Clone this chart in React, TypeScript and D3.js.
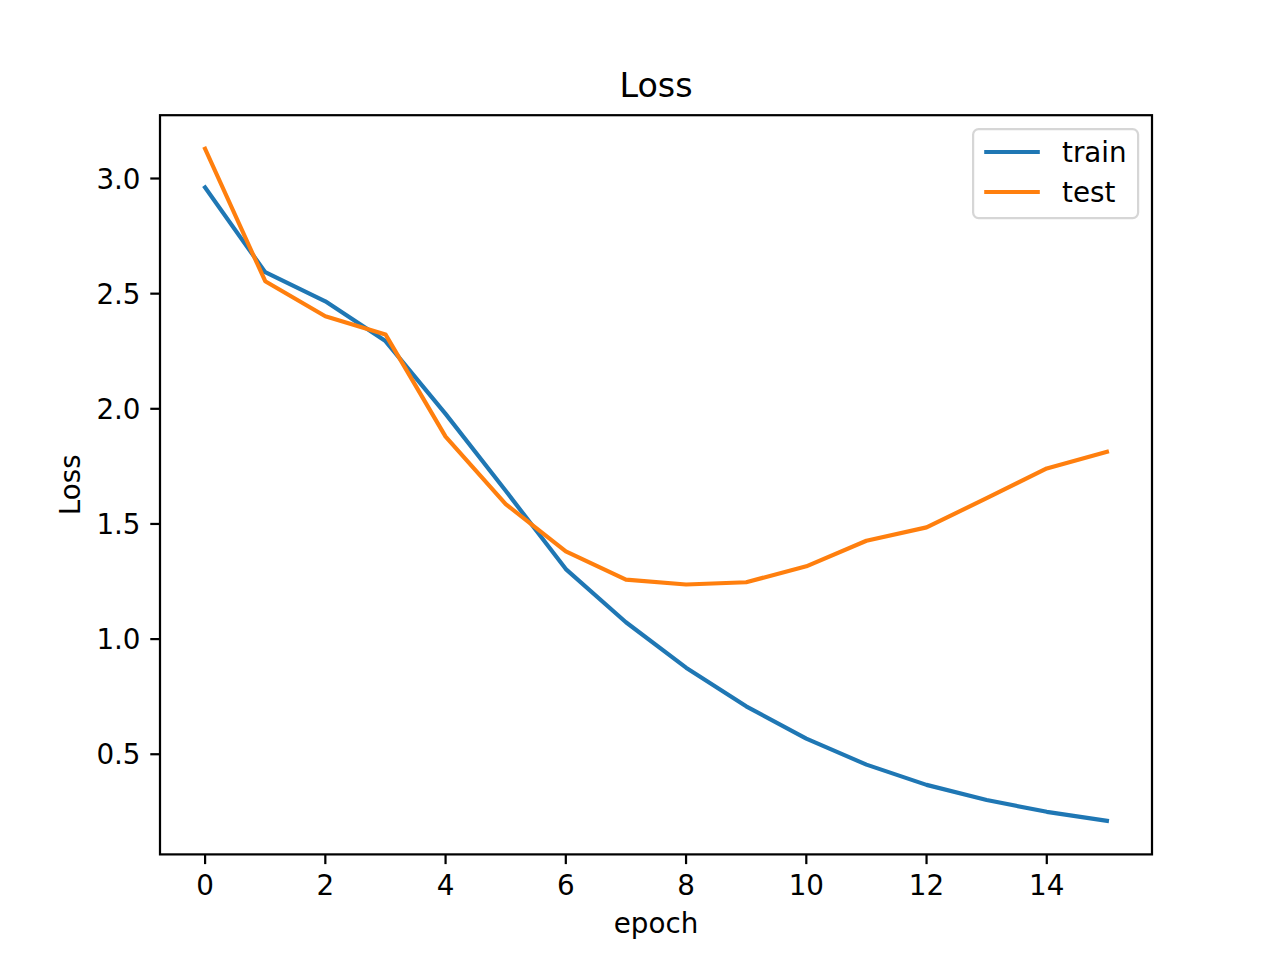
import React from "react";
import * as d3 from "d3";

const epochs = [0, 1, 2, 3, 4, 5, 6, 7, 8, 9, 10, 11, 12, 13, 14, 15];
const trainLoss = [2.961, 2.593, 2.467, 2.294, 1.978, 1.644, 1.304, 1.073, 0.876, 0.708, 0.568, 0.455, 0.367, 0.301, 0.250, 0.211];
const testLoss = [3.129, 2.554, 2.402, 2.323, 1.879, 1.586, 1.381, 1.258, 1.237, 1.247, 1.316, 1.427, 1.485, 1.612, 1.741, 1.813];
const xTicks = [0, 2, 4, 6, 8, 10, 12, 14];
const yTicks = [0.5, 1.0, 1.5, 2.0, 2.5, 3.0];
const seriesNames = ["train", "test"];
const seriesColors = ["#1f77b4", "#ff7f0e"];

const W = 1280;
const H = 960;
const left = 160;
const right = 1152;
const top = 115.2;
const bottom = 854.4;
const FS = 27.78;
const font = "DejaVu Sans, sans-serif";

export default function App() {
  const xMin = d3.min(epochs)!;
  const xMax = d3.max(epochs)!;
  const xm = (xMax - xMin) * 0.05;
  const x = d3.scaleLinear().domain([xMin - xm, xMax + xm]).range([left, right]);
  const all = [...trainLoss, ...testLoss];
  const yMin = d3.min(all)!;
  const yMax = d3.max(all)!;
  const ymg = (yMax - yMin) * 0.05;
  const y = d3.scaleLinear().domain([yMin - ymg, yMax + ymg]).range([bottom, top]);

  const line = d3
    .line<number>()
    .x((_, i) => x(epochs[i]))
    .y((d) => y(d));

  const series = [trainLoss, testLoss];
  const tickLen = 9.72;
  const pad = 9.72;

  // legend geometry
  const lgRight = right - 0.5 * FS;
  const lgTop = top + 0.5 * FS;
  const lgW = 165;
  const lgH = 89;
  const lgLeft = lgRight - lgW;

  return (
    <svg
      width={W}
      height={H}
      style={{ position: "absolute", left: 0, top: 0, background: "#fff" }}
      fontFamily={font}
    >
      <rect x={0} y={0} width={W} height={H} fill="#fff" />
      {series.map((s, i) => (
        <path
          key={seriesNames[i]}
          d={line(s) || ""}
          fill="none"
          stroke={seriesColors[i]}
          strokeWidth={4.17}
          strokeLinecap="square"
          strokeLinejoin="round"
        />
      ))}
      <rect
        x={left}
        y={top}
        width={right - left}
        height={bottom - top}
        fill="none"
        stroke="#000"
        strokeWidth={2.22}
      />
      {xTicks.map((t) => (
        <g key={"x" + t}>
          <line x1={x(t)} x2={x(t)} y1={bottom} y2={bottom + tickLen} stroke="#000" strokeWidth={2.22} />
          <text x={x(t)} y={bottom + tickLen + pad + 21} fontSize={FS} textAnchor="middle" fill="#000">
            {t}
          </text>
        </g>
      ))}
      {yTicks.map((t) => (
        <g key={"y" + t}>
          <line x1={left - tickLen} x2={left} y1={y(t)} y2={y(t)} stroke="#000" strokeWidth={2.22} />
          <text x={left - tickLen - pad} y={y(t)} dy="0.36em" fontSize={FS} textAnchor="end" fill="#000">
            {t.toFixed(1)}
          </text>
        </g>
      ))}
      <text x={(left + right) / 2} y={97} fontSize={33.33} textAnchor="middle" fill="#000">
        Loss
      </text>
      <text x={(left + right) / 2} y={933} fontSize={FS} textAnchor="middle" fill="#000">
        epoch
      </text>
      <text
        transform={`translate(80, ${(top + bottom) / 2}) rotate(-90)`}
        fontSize={FS}
        textAnchor="middle"
        fill="#000"
      >
        Loss
      </text>
      <rect
        x={lgLeft}
        y={lgTop}
        width={lgW}
        height={lgH}
        rx={5.5}
        ry={5.5}
        fill="#fff"
        fillOpacity={0.8}
        stroke="#cccccc"
        strokeOpacity={0.8}
        strokeWidth={2.22}
      />
      {seriesNames.map((n, i) => {
        const cy = 152 + i * 40;
        return (
          <g key={"lg" + n}>
            <line
              x1={lgLeft + 11.1}
              x2={lgLeft + 11.1 + 55.6}
              y1={cy}
              y2={cy}
              stroke={seriesColors[i]}
              strokeWidth={4.17}
            />
            <text x={lgLeft + 11.1 + 55.6 + 22.2} y={cy} dy="0.36em" fontSize={FS} fill="#000">
              {n}
            </text>
          </g>
        );
      })}
    </svg>
  );
}
